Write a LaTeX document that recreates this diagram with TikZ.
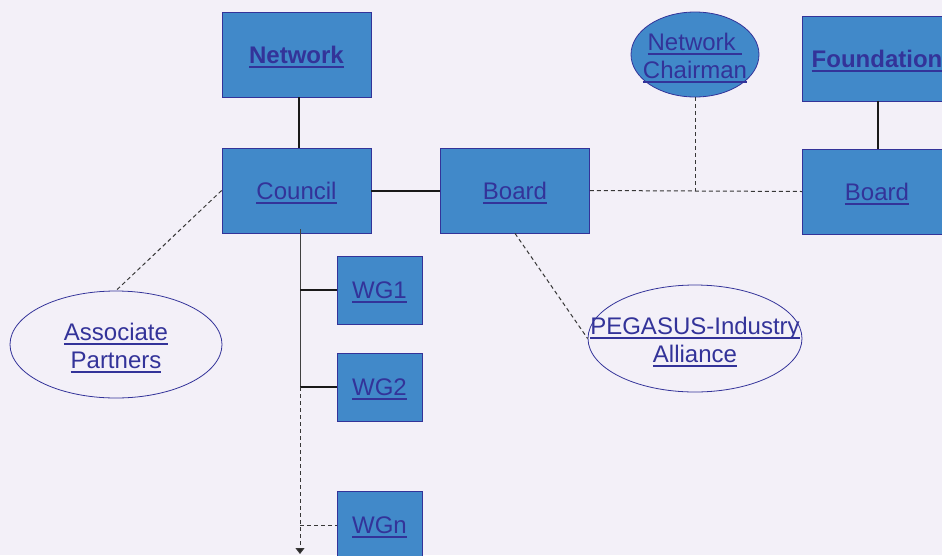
\documentclass[tikz,border=0pt]{standalone}
\usepackage{fontspec}
\setmainfont{Liberation Sans}
\usetikzlibrary{arrows.meta,calc,shapes.geometric}
\definecolor{bgcol}{RGB}{243,240,248}
\definecolor{boxfill}{RGB}{65,137,201}
\definecolor{linkcol}{RGB}{51,51,153}
\definecolor{dashcol}{RGB}{55,55,55}
% underlined link-style text (rule does not add depth)
\newcommand\lnk[1]{\setbox0=\hbox{#1}\ooalign{\copy0\cr\smash{\rule[-4.5pt]{\wd0}{2pt}}}}
\tikzset{
  orgbox/.style={draw=linkcol, line width=0.8pt, fill=boxfill, rectangle,
    minimum width=149pt, minimum height=85pt, inner sep=0pt,
    text=linkcol, font=\fontsize{24}{28.5}\selectfont, align=center},
  wgbox/.style={orgbox, minimum width=85pt, minimum height=68pt},
  roundbox/.style={draw=linkcol, line width=0.8pt, ellipse, inner sep=0pt,
    text=linkcol, font=\fontsize{24}{28.5}\selectfont, align=center},
  roundtext/.style={text=linkcol, font=\fontsize{24}{28.5}\selectfont, align=center},
  solidlink/.style={draw=black!90, line width=2pt},
  thinlink/.style={draw=black!75, line width=1pt},
  dashlink/.style={draw=dashcol, line width=1pt, dash pattern=on 4pt off 3pt}
}
\begin{document}
\begin{tikzpicture}[x=1pt,y=-1pt]
\useasboundingbox (0,0) rectangle (942,555);
\clip (0,0) rectangle (942,555);
\fill[bgcol] (0,0) rectangle (942,555);

% boxes
\node[orgbox] (network) at (296.5,54.5) {\textbf{\lnk{Network}}};
\node[orgbox] (council) at (296.5,190.5) {\lnk{Council}};
\node[orgbox] (boardL) at (515,190.5) {\lnk{Board}};
\node[orgbox] (found) at (877,58.5) {\textbf{\lnk{Foundation}}};
\node[orgbox] (boardR) at (877,191.5) {\lnk{Board}};
\node[wgbox] (wg1) at (379.5,290) {\lnk{WG1}};
\node[wgbox] (wg2) at (379.5,387) {\lnk{WG2}};
\node[wgbox] (wgn) at (379.5,525) {\lnk{WGn}};

% ellipses with their labels
\node[roundbox, fill=boxfill, minimum width=128pt, minimum height=85pt] (chair) at (695,54.5) {};
\node[roundtext] (chairtxt) at (695,56) {\lnk{Network\ }\\\lnk{Chairman}};
\node[roundbox, fill=bgcol, minimum width=212pt, minimum height=107pt] (assoc) at (116,344.5) {};
\node[roundtext] (assoctxt) at (116,346) {\lnk{Associate}\\\lnk{Partners}};
\node[roundbox, fill=bgcol, minimum width=214pt, minimum height=107pt] (peg) at (695,338.5) {};
\node[roundtext] (pegtxt) at (695,340) {\lnk{PEGASUS-Industry}\\\lnk{Alliance}};

% solid connections
\draw[solidlink] ([xshift=2.5pt]network.south) -- ([xshift=2.5pt]council.north);
\draw[solidlink] (council.east) -- (boardL.west);
\draw[solidlink] ([xshift=1pt]found.south) -- ([xshift=1pt]boardR.north);

% working-group trunk
\coordinate (t0) at ($(council.south)+(3.5,-4)$);
\coordinate (tend) at (300,554);
\draw[thinlink] (t0) -- (t0 |- wg2.west);
\draw[solidlink] (t0 |- wg1.west) -- (wg1.west);
\draw[solidlink] (t0 |- wg2.west) -- (wg2.west);
\draw[dashlink, -{Triangle[length=6pt,width=9pt,fill=black!85]}] (t0 |- wg2.west) -- (tend);
\draw[dashlink] (t0 |- wgn.west) -- (wgn.west);

% dashed relations
\draw[dashlink] (boardL.east) -- (boardR.west);
\coordinate (cj) at (chair.south |- boardL.east);
\draw[dashlink] (chair.south) -- (cj);
\draw[dashlink] (council.west) -- (assoc.north);
\draw[dashlink] (boardL.south) -- (peg.west);
\end{tikzpicture}
\end{document}
